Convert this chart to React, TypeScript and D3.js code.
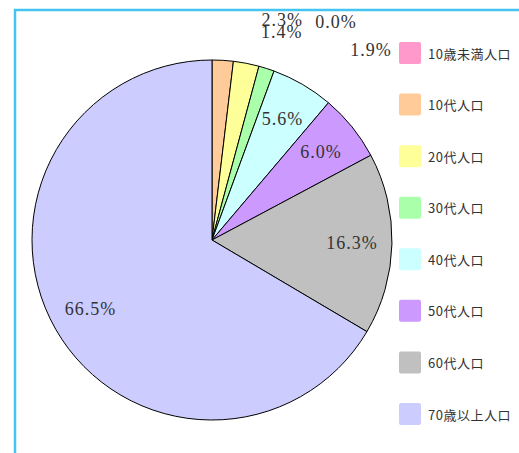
import React from "react";
import { pie, arc, scaleOrdinal, scaleLinear } from "d3";

const categories = [
  "10歳未満人口",
  "10代人口",
  "20代人口",
  "30代人口",
  "40代人口",
  "50代人口",
  "60代人口",
  "70歳以上人口",
];
const shares = [0.0, 1.9, 2.3, 1.4, 5.6, 6.0, 16.3, 66.5];
const sliceColors = [
  "#ff99cc",
  "#ffcc99",
  "#ffff99",
  "#aaffaa",
  "#ccffff",
  "#cc99ff",
  "#c0c0c0",
  "#ccccff",
];
// small slices get their label pushed outside: [angle deg from 12 o'clock, distance]
const outsideLabels: Record<string, [number, number]> = {
  "10歳未満人口": [29.6, 251],
  "10代人口": [39.9, 248],
  "20代人口": [17.7, 231],
  "30代人口": [18.6, 219],
};

const W = 519;
const H = 453;
const cx = 212;
const cy = 240;
const R = 180;

export default function App() {
  const color = scaleOrdinal<string, string>().domain(categories).range(sliceColors);
  const slices = pie<number>().sort(null).value((d) => d)(shares);
  const path = arc<any>().innerRadius(0).outerRadius(R);
  const labelArc = arc<any>().innerRadius(140).outerRadius(140);

  // legend rows
  const legendY = scaleLinear().domain([0, categories.length - 1]).range([53, 414]);

  const labelPos = (i: number, s: any): [number, number] => {
    const o = outsideLabels[categories[i]];
    if (o) {
      const a = (o[0] * Math.PI) / 180;
      return [Math.sin(a) * o[1], -Math.cos(a) * o[1]];
    }
    const c = labelArc.centroid(s);
    return [c[0], c[1]];
  };

  return (
    <div style={{ position: "fixed", left: 0, top: 0 }}>
      <svg width={W} height={H} style={{ display: "block" }}>
        <rect width={W} height={H} fill="#fff" />
        <path d={`M15,${H} V10 H${W}`} fill="none" stroke="#44c4f0" strokeWidth={2.5} />
        <g transform={`translate(${cx},${cy})`}>
          {slices.map((s, i) =>
            s.endAngle - s.startAngle > 0 ? (
              <path
                key={i}
                d={path(s) || ""}
                fill={color(categories[i])}
                stroke="#000"
                strokeWidth={1}
                strokeLinejoin="round"
              />
            ) : null
          )}
          {slices.map((s, i) => {
            const [x, y] = labelPos(i, s);
            return (
              <text
                key={i}
                x={x}
                y={y}
                textAnchor="middle"
                dominantBaseline="central"
                fontFamily="'Liberation Serif', serif"
                fontSize={18}
                letterSpacing={1}
                fill="#333"
              >
                {shares[i].toFixed(1)}%
              </text>
            );
          })}
        </g>
        <g>
          {categories.map((c, i) => (
            <g key={c} transform={`translate(399,${legendY(i)})`}>
              <rect x={0} y={-11} width={22} height={22} rx={2} fill={color(c)} />
              <text
                x={29}
                y={0}
                dominantBaseline="central"
                fontFamily="'Noto Sans CJK JP', sans-serif"
                fontSize={13}
                letterSpacing={0.5}
                fill="#333"
              >
                {c}
              </text>
            </g>
          ))}
        </g>
      </svg>
    </div>
  );
}
